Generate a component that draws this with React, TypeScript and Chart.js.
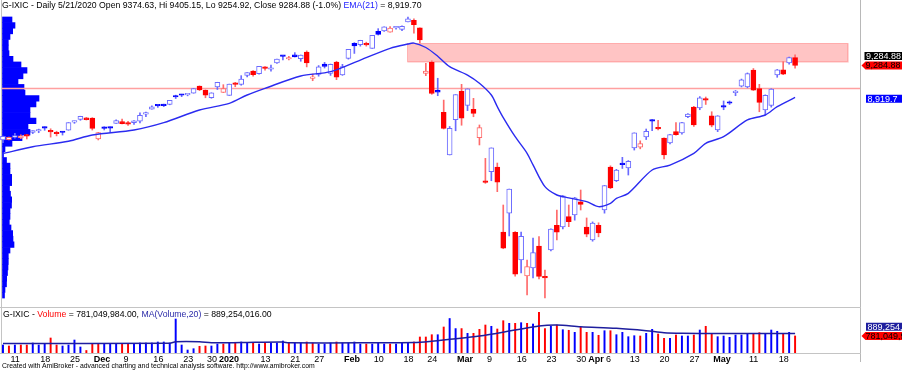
import React, { useEffect, useRef } from "react";
import { Chart, registerables } from "chart.js";
Chart.register(...registerables);

const FONT = '"Liberation Sans", Arial, sans-serif';

// ---- Daily OHLC, Nov 8 2019 .. May 21 2020 (bar index 0..133) ----
const prevCloseBeforeFirst = 8434.5;
const opens = [
  8434.9, 8437.7, 8464.9, 8457.7, 8490.0, 8521.6, 8537.8, 8573.0, 8530.0, 8523.0,
  8531.3, 8546.2, 8638.2, 8669.6, 8686.6, 8685.9, 8448.2, 8571.4, 8582.3, 8624.3,
  8645.8, 8618.0, 8631.9, 8650.6, 8729.8, 8786.1, 8825.4, 8835.6, 8840.0, 8930.6,
  8951.5, 8950.3, 8968.6, 9049.5, 9004.4, 8918.7, 9039.5, 8976.4, 8943.5, 9076.6,
  9068.0, 9171.4, 9222.1, 9191.8, 9255.2, 9242.1, 9314.1, 9393.1, 9358.5, 9406.8,
  9363.3, 9439.0, 9137.1, 9184.2, 9300.2, 9194.6, 9324.5, 9178.2, 9365.8, 9538.6,
  9522.1, 9524.1, 9480.3, 9674.1, 9679.5, 9664.6, 9712.7, 9696.9, 9782.6, 9800.7,
  9713.2, 9195.0, 9320.0, 9000.0, 8750.0, 8264.0, 8667.0, 8990.0, 8830.0, 8785.0,
  8460.0, 7957.0, 8074.0, 8127.0, 7385.0, 7600.0, 7380.0, 7065.0, 6885.0, 6975.0,
  7225.0, 6870.0, 7180.0, 7460.0, 7442.0, 7560.0, 7579.0, 7730.0, 7442.0, 7294.0,
  7460.0, 7636.0, 8127.0, 7970.0, 8170.0, 8115.0, 8343.0, 8354.0, 8470.0, 8660.0,
  8565.0, 8457.0, 8400.0, 8530.0, 8514.0, 8700.0, 8811.0, 8800.0, 8900.0, 8710.0,
  8549.0, 8820.0, 8860.0, 8975.0, 9050.0, 9040.0, 9233.0, 9020.0, 8777.0, 8830.0,
  9176.0, 9236.0, 9313.0, 9374.63,
];
const highs = [
  8479.4, 8468.4, 8510.2, 8492.6, 8498.0, 8540.8, 8558.8, 8584.5, 8562.8, 8534.8,
  8531.8, 8633.0, 8650.7, 8705.9, 8691.9, 8689.8, 8521.9, 8586.1, 8582.5, 8664.4,
  8673.1, 8648.5, 8656.1, 8744.0, 8752.2, 8823.8, 8830.4, 8843.9, 8887.2, 8946.3,
  8956.4, 8956.1, 9022.5, 9052.0, 9006.4, 8973.0, 9093.4, 9065.8, 9072.4, 9091.9,
  9168.9, 9204.0, 9225.9, 9274.2, 9273.2, 9290.1, 9357.5, 9393.1, 9390.0, 9431.4,
  9404.5, 9451.4, 9187.2, 9283.7, 9320.2, 9301.4, 9333.2, 9298.2, 9469.3, 9545.9,
  9572.6, 9551.0, 9629.0, 9705.0, 9726.3, 9727.4, 9731.8, 9738.6, 9838.4, 9816.5,
  9713.2, 9310.0, 9338.0, 9139.0, 8890.0, 8589.0, 8952.2, 9070.0, 9018.1, 8910.0,
  8606.0, 8225.0, 8344.3, 8172.0, 7693.0, 7875.0, 7390.0, 7385.0, 7065.0, 7316.0,
  7332.0, 6951.0, 7420.0, 7636.0, 7800.0, 7693.0, 7780.0, 7864.0, 7545.0, 7500.0,
  7490.0, 7916.0, 8140.0, 8100.0, 8237.0, 8200.0, 8516.0, 8425.0, 8560.0, 8668.0,
  8660.0, 8460.0, 8500.0, 8632.0, 8636.0, 8735.0, 8820.0, 8930.0, 8925.0, 8757.0,
  8712.0, 8880.0, 8880.0, 9000.0, 9130.0, 9200.0, 9250.0, 9070.0, 8950.0, 9020.0,
  9240.0, 9328.0, 9380.0, 9405.15,
];
const lows = [
  8404.3, 8436.5, 8455.0, 8450.2, 8446.0, 8507.6, 8517.6, 8545.4, 8467.6, 8481.4,
  8491.1, 8546.2, 8624.6, 8659.5, 8662.5, 8548.2, 8435.3, 8549.0, 8523.9, 8624.3,
  8619.1, 8600.7, 8611.8, 8630.6, 8701.7, 8786.1, 8806.8, 8815.7, 8836.2, 8907.8,
  8928.9, 8938.6, 8968.6, 8998.3, 8916.6, 8910.7, 9010.9, 8976.4, 8943.5, 9042.6,
  9059.4, 9153.7, 9163.8, 9186.3, 9232.6, 9219.4, 9307.0, 9348.7, 9347.9, 9381.6,
  9333.0, 9268.5, 9111.0, 9162.5, 9256.1, 9171.6, 9122.7, 9171.8, 9357.3, 9422.3,
  9505.3, 9505.6, 9480.1, 9632.0, 9672.8, 9664.4, 9699.5, 9681.4, 9782.6, 9652.5,
  9541.4, 9170.0, 8956.0, 8940.0, 8560.0, 8264.0, 8540.0, 8603.0, 8770.0, 8700.0,
  8378.0, 7940.0, 7970.0, 7845.0, 7194.0, 7340.0, 6880.0, 6917.0, 6666.0, 6860.0,
  6850.0, 6631.4, 7170.0, 7294.0, 7420.0, 7446.0, 7520.0, 7636.0, 7330.0, 7280.0,
  7330.0, 7600.0, 7880.0, 7960.0, 8110.0, 8035.0, 8320.0, 8334.0, 8440.0, 8540.0,
  8549.0, 8220.0, 8390.0, 8490.0, 8500.0, 8690.0, 8590.0, 8780.0, 8840.0, 8585.0,
  8530.0, 8780.0, 8840.0, 8940.0, 9040.0, 9030.0, 9000.0, 8757.0, 8720.0, 8810.0,
  9150.0, 9180.0, 9300.0, 9254.92,
];
const closes = [
  8475.3, 8464.3, 8486.1, 8482.1, 8479.0, 8540.8, 8549.9, 8570.7, 8526.7, 8506.2,
  8519.9, 8632.5, 8647.9, 8705.2, 8665.5, 8568.0, 8520.6, 8566.7, 8570.7, 8656.5,
  8621.8, 8616.2, 8654.1, 8717.3, 8734.9, 8814.2, 8823.4, 8827.7, 8887.2, 8925.0,
  8945.7, 8952.9, 9022.4, 9006.6, 8946.0, 8972.6, 9092.2, 9020.8, 9071.5, 9068.6,
  9129.2, 9203.4, 9178.9, 9273.9, 9251.3, 9258.7, 9357.1, 9388.9, 9370.8, 9383.8,
  9402.5, 9314.9, 9139.3, 9269.7, 9275.2, 9298.9, 9150.9, 9273.4, 9468.0, 9508.7,
  9572.2, 9520.5, 9628.4, 9638.9, 9726.0, 9712.0, 9731.2, 9732.7, 9817.2, 9751.0,
  9576.6, 9221.3, 8965.6, 8980.8, 8566.5, 8567.4, 8952.2, 8684.1, 9018.1, 8738.6,
  8575.6, 7950.7, 8344.3, 7952.1, 7201.8, 7874.9, 6904.6, 7334.8, 6989.8, 7150.6,
  6879.5, 6860.7, 7417.9, 7384.3, 7797.5, 7502.4, 7774.2, 7700.1, 7360.6, 7487.3,
  7373.1, 7913.2, 7887.3, 8090.9, 8153.6, 8192.4, 8515.7, 8393.2, 8532.4, 8650.1,
  8560.7, 8263.2, 8495.4, 8494.8, 8634.5, 8730.2, 8607.7, 8914.7, 8889.6, 8605.0,
  8710.7, 8809.1, 8854.4, 8979.7, 9121.3, 9192.3, 9002.6, 8863.2, 8943.7, 9014.6,
  9234.8, 9185.1, 9375.8, 9284.88,
];
// Volume, millions of shares
const volumes = [
  366, 321, 366, 366, 366, 458, 366, 412, 687, 366,
  321, 366, 595, 275, 115, 435, 412, 412, 412, 412,
  412, 412, 412, 458, 458, 458, 504, 504, 458, 1557,
  366, 137, 197, 307, 321, 321, 412, 412, 458, 458,
  504, 458, 458, 412, 458, 458, 458, 550, 458, 458,
  458, 504, 458, 412, 412, 458, 504, 458, 458, 504,
  412, 412, 412, 458, 412, 412, 412, 458, 458, 504,
  733, 733, 838, 838, 1191, 1580, 1118, 1118, 902, 902,
  1085, 1282, 1223, 1099, 1479, 1360, 1360, 1388, 1360, 1328,
  1864, 1118, 1223, 1282, 1067, 1040, 948, 1177, 948, 948,
  811, 1021, 1021, 838, 948, 747, 792, 779, 902, 1085,
  870, 673, 673, 824, 779, 779, 824, 1053, 1223, 902,
  747, 779, 719, 824, 824, 902, 902, 930, 902, 1053,
  994, 902, 948, 781.049984,
];
// EMA(21) of close, read at bar indices
const emaIdx = [0, 5, 11, 15, 22, 27, 33, 38, 41, 44, 50, 55, 60, 65, 68, 69, 71, 73, 75, 78, 80, 82, 83, 84, 86, 88, 89, 91, 93, 95, 98, 100, 102, 103, 105, 109, 112, 116, 118, 121, 125, 128, 130, 133];
const emaVal = [8280, 8358, 8420, 8492, 8549, 8632, 8777, 8853, 8948, 9024, 9165, 9214, 9347, 9481, 9530, 9540, 9490, 9390, 9271, 9176, 9082, 8948, 8815, 8690, 8472, 8283, 8150, 7902, 7807, 7775, 7731, 7674, 7712, 7769, 7826, 8092, 8149, 8283, 8397, 8472, 8663, 8720, 8815, 8919.7];
// MA(Volume,20), millions
const volMaIdx = [0, 28, 29, 33, 35, 40, 47, 48, 60, 69, 72, 75, 80, 86, 90, 93, 97, 103, 108, 111, 114, 120, 133];
const volMaVal = [440, 450, 515, 515, 470, 480, 500, 465, 470, 480, 540, 627, 779, 1053, 1237, 1282, 1205, 1131, 1021, 930, 902, 890, 889.254016];
// Volume-at-price distribution (relative), from highest price bin to lowest
const histHigh = 9838.4;
const histLow = 6631.4;
const histVol = [9.5, 12.5, 10.2, 7.5, 5.8, 5.8, 6.5, 10.5, 18.5, 24.5, 20.5, 15.5, 21.5, 22.5, 36.5, 33.5, 27.5, 27.5, 33.5, 25.5, 27.5, 19.5, 9.5, 2.5, 1, 4, 7.5, 7.5, 9.2, 9.2, 7, 8, 9.2, 9, 7.5, 7.5, 6.8, 8.5, 10.2, 10.5, 11.5, 7.5, 5.8, 5.8, 5.5, 5, 4.2, 4, 2.5, 2];
// Resistance zone and horizontal level
const zoneFromIdx = 67.9;
const zoneToIdx = 142;
const zoneHigh = 9540;
const zoneLow = 9318;
const levelPrice = 9022;
// Date axis labels
const tickIdx = [1, 6, 11, 15, 20, 25, 30, 34, 36, 43, 48, 52, 57, 62, 67, 71, 76, 81, 86, 91, 96, 98, 101, 105, 110, 115, 119, 125, 130];
const tickText = ["11", "18", "25", "Dec", "9", "16", "23", "30", "2020", "13", "21", "27", "Feb", "10", "18", "24", "Mar", "9", "16", "23", "30", "Apr", "6", "13", "20", "27", "May", "11", "18"];
const tickBold = [0, 0, 0, 1, 0, 0, 0, 0, 1, 0, 0, 0, 1, 0, 0, 0, 1, 0, 0, 0, 0, 1, 0, 0, 0, 0, 1, 0, 0];

const X_MIN = -0.5;
const X_MAX = 143.9;
const Y_MIN = 6552;
const Y_MAX = 10032;

const BLUE = "#0000ff";
const RED = "#ff0000";

const fmt = (v: number, d = 2) => v.toLocaleString("en-US", { minimumFractionDigits: 0, maximumFractionDigits: d });
const fmt2 = (v: number) => v.toLocaleString("en-US", { minimumFractionDigits: 2, maximumFractionDigits: 2 });

function drawTag(ctx: CanvasRenderingContext2D, yc: number, text: string, fill: string, color: string, arrow: boolean, xl: number) {
  const h = 8;
  ctx.save();
  ctx.fillStyle = fill;
  ctx.beginPath();
  if (arrow) {
    ctx.moveTo(xl, yc);
    ctx.lineTo(xl + 4, yc - h / 2);
    ctx.lineTo(902, yc - h / 2);
    ctx.lineTo(902, yc + h / 2);
    ctx.lineTo(xl + 4, yc + h / 2);
    ctx.closePath();
  } else {
    ctx.rect(xl, yc - h / 2, 902 - xl, h);
  }
  ctx.fill();
  ctx.fillStyle = color;
  ctx.font = `9px ${FONT}`;
  ctx.textBaseline = "middle";
  ctx.textAlign = "left";
  ctx.fillText(text, xl + (arrow ? 4 : 1.5), yc + 0.5);
  ctx.restore();
}

export default function App() {
  const histRef = useRef<HTMLCanvasElement>(null);
  const priceRef = useRef<HTMLCanvasElement>(null);
  const volRef = useRef<HTMLCanvasElement>(null);

  useEffect(() => {
    const idx = closes.map((_, i) => i);
    const up = idx.map((i) => closes[i] >= (i === 0 ? prevCloseBeforeFirst : closes[i - 1]));
    const hollow = idx.map((i) => closes[i] > opens[i]);
    const bodyFill = idx.map((i) => (hollow[i] ? "#ffffff" : up[i] ? BLUE : RED));
    const bodyBorder = idx.map((i) => (hollow[i] ? (up[i] ? "#6a6aff" : "#ff6a6a") : up[i] ? BLUE : RED));
    const wickColor = idx.map((i) => (up[i] ? "#6a6aff" : "#ff6a6a"));

    const binSize = (histHigh - histLow) / histVol.length;

    const hist = new Chart(histRef.current!, {
      type: "bar",
      data: {
        datasets: [
          {
            data: histVol.map((v, k) => ({ x: v, y: histHigh - (k + 0.5) * binSize })),
            backgroundColor: BLUE,
            borderWidth: 0,
            barPercentage: 1,
            categoryPercentage: 1,
          } as any,
        ],
      },
      options: {
        indexAxis: "y",
        responsive: false,
        animation: false,
        devicePixelRatio: 1,
        events: [],
        layout: { padding: { left: 0, right: 42, top: 0, bottom: 0 } },
        plugins: { legend: { display: false }, tooltip: { enabled: false } },
        scales: {
          x: { type: "linear", min: -2.5, max: 857.5, display: false, offset: false },
          y: { type: "linear", min: Y_MIN, max: Y_MAX, display: false, offset: false },
        },
      },
    });

    const pricePlugin = {
      id: "priceDecor",
      beforeDatasetsDraw(chart: any) {
        const { ctx, scales, chartArea } = chart;
        const x = scales.x, y = scales.y;
        const x0 = x.getPixelForValue(zoneFromIdx), x1 = x.getPixelForValue(zoneToIdx);
        const y0 = y.getPixelForValue(zoneHigh), y1 = y.getPixelForValue(zoneLow);
        ctx.save();
        ctx.fillStyle = "#ffc4c4";
        ctx.fillRect(x0, y0, x1 - x0, y1 - y0);
        ctx.setLineDash([1, 1]);
        ctx.strokeStyle = "#ff8c8c";
        ctx.lineWidth = 1;
        ctx.strokeRect(Math.round(x0) + 0.5, Math.round(y0) + 0.5, Math.round(x1 - x0) - 1, Math.round(y1 - y0) - 1);
        ctx.setLineDash([]);
        const yl = y.getPixelForValue(levelPrice);
        ctx.strokeStyle = "#ffa0a0";
        ctx.lineWidth = 1.5;
        ctx.beginPath();
        ctx.moveTo(chartArea.left + 2, yl);
        ctx.lineTo(chartArea.right, yl);
        ctx.stroke();
        ctx.restore();
      },
      afterDraw(chart: any) {
        const { ctx, scales } = chart;
        const y = scales.y;
        const last = closes[closes.length - 1];
        const yc = y.getPixelForValue(last);
        drawTag(ctx, yc - 9.5, fmt2(last), "#000000", "#ffffff", false, 864.5);
        drawTag(ctx, yc, fmt2(last), RED, "#000000", true, 861.5);
        const e = emaVal[emaVal.length - 1];
        drawTag(ctx, y.getPixelForValue(e) + 1.2, fmt(e), BLUE, "#ffffff", false, 866);
      },
    };

    const price = new Chart(priceRef.current!, {
      type: "bar",
      data: {
        datasets: [
          {
            type: "bar",
            data: idx.map((i) => ({ x: i, y: [lows[i], highs[i]] })),
            backgroundColor: wickColor,
            borderWidth: 0,
            barThickness: 1,
            grouped: false,
            order: 3,
          } as any,
          {
            type: "bar",
            data: idx.map((i) => ({ x: i, y: [opens[i], closes[i]] })),
            backgroundColor: bodyFill,
            borderColor: bodyBorder,
            borderWidth: 1,
            borderSkipped: false,
            barThickness: 5,
            minBarLength: 1.5,
            grouped: false,
            order: 2,
          } as any,
          {
            type: "line",
            data: emaIdx.map((x, k) => ({ x, y: emaVal[k] })),
            borderColor: "#2b2bf0",
            borderWidth: 1.4,
            pointRadius: 0,
            tension: 0.3,
            order: 1,
          } as any,
        ],
      },
      options: {
        responsive: false,
        animation: false,
        devicePixelRatio: 1,
        events: [],
        layout: { padding: { left: 0, right: 42, top: 0, bottom: 0 } },
        plugins: { legend: { display: false }, tooltip: { enabled: false } },
        scales: {
          x: { type: "linear", min: X_MIN, max: X_MAX, display: false, offset: false },
          y: { type: "linear", min: Y_MIN, max: Y_MAX, display: false, offset: false },
        },
      },
      plugins: [pricePlugin],
    });

    const volPlugin = {
      id: "volDecor",
      afterDraw(chart: any) {
        const { ctx, scales } = chart;
        const y = scales.y;
        const lv = volumes[volumes.length - 1];
        const yv = y.getPixelForValue(lv);
        const lm = volMaVal[volMaVal.length - 1];
        drawTag(ctx, Math.min(y.getPixelForValue(lm), yv - 9.3), fmt2(lm * 1e6), "#1e1e9e", "#ffffff", false, 866);
        drawTag(ctx, yv, fmt2(lv * 1e6), RED, "#000000", true, 861.5);
      },
    };

    const vol = new Chart(volRef.current!, {
      type: "bar",
      data: {
        datasets: [
          {
            type: "line",
            data: volMaIdx.map((x, k) => ({ x, y: volMaVal[k] })),
            borderColor: "#1e1e9e",
            borderWidth: 1.5,
            pointRadius: 0,
            tension: 0.3,
            order: 1,
          } as any,
          {
            type: "bar",
            data: idx.map((i) => ({ x: i, y: volumes[i] })),
            backgroundColor: idx.map((i) => (up[i] ? BLUE : RED)),
            borderWidth: 0,
            barThickness: 1.3,
            grouped: false,
            order: 2,
          } as any,
        ],
      },
      options: {
        responsive: false,
        animation: false,
        devicePixelRatio: 1,
        events: [],
        layout: { padding: { left: 0, right: 42, top: 8, bottom: 0 } },
        plugins: { legend: { display: false }, tooltip: { enabled: false } },
        scales: {
          x: {
            type: "linear",
            min: X_MIN,
            max: X_MAX,
            offset: false,
            position: "bottom",
            grid: { display: false, drawTicks: false },
            border: { display: false },
            afterBuildTicks: (s: any) => {
              s.ticks = tickIdx.map((v) => ({ value: v }));
            },
            afterFit: (s: any) => {
              s.height = 17;
            },
            ticks: {
              autoSkip: false,
              maxRotation: 0,
              minRotation: 0,
              align: "start",
              labelOffset: 1.5,
              padding: 1,
              color: "#000000",
              font: (c: any) => ({ family: FONT, size: 9, weight: tickBold[c.index] ? "bold" : "normal" }),
              callback: (_v: any, i: number) => tickText[i],
            },
          },
          y: { type: "linear", min: 0, max: 2061, display: false, offset: false },
        },
      },
      plugins: [volPlugin],
    });

    return () => {
      hist.destroy();
      price.destroy();
      vol.destroy();
    };
  }, []);

  const last = closes.length - 1;
  const chg = ((closes[last] - closes[last - 1]) / closes[last - 1]) * 100;

  return (
    <div style={{ position: "fixed", left: 0, top: 0, width: 902, height: 370, background: "#fff", overflow: "hidden", fontFamily: FONT, color: "#000" }}>
      <div style={{ position: "absolute", left: 1, top: 0, width: 1, height: 353, background: "#c4c4c4" }} />
      <div style={{ position: "absolute", left: 860, top: 0, width: 1, height: 362, background: "#b8b8b8" }} />
      <div style={{ position: "absolute", left: 0, top: 307, width: 861, height: 1, background: "#c4c4c4" }} />
      <div style={{ position: "absolute", left: 0, top: 353, width: 861, height: 1, background: "#c4c4c4" }} />
      <canvas ref={histRef} width={902} height={305} style={{ position: "absolute", left: 0, top: 0 }} />
      <canvas ref={priceRef} width={902} height={305} style={{ position: "absolute", left: 0, top: 0 }} />
      <canvas ref={volRef} width={902} height={70} style={{ position: "absolute", left: 0, top: 300 }} />
      <div style={{ position: "absolute", left: 2, top: 0, fontSize: 8.7, lineHeight: "10px", whiteSpace: "nowrap" }}>
        G-IXIC - Daily 5/21/2020 Open {opens[last]}, Hi {highs[last]}, Lo {lows[last]}, Close {closes[last]} ({chg.toFixed(1)}%){" "}
        <span style={{ color: "#2020ff" }}>EMA(21)</span> = {fmt2(emaVal[emaVal.length - 1])}
      </div>
      <div style={{ position: "absolute", left: 3, top: 309, fontSize: 8.7, lineHeight: "10px", whiteSpace: "nowrap" }}>
        G-IXIC - <span style={{ color: RED }}>Volume</span> = {fmt2(volumes[last] * 1e6)},{" "}
        <span style={{ color: "#2a2aa8" }}>MA(Volume,20)</span> = {fmt2(volMaVal[volMaVal.length - 1] * 1e6)}
      </div>
      <div style={{ position: "absolute", left: 2, top: 361, fontSize: 6.85, lineHeight: "9px", whiteSpace: "nowrap" }}>
        Created with AmiBroker - advanced charting and technical analysis software. http://www.amibroker.com
      </div>
    </div>
  );
}
